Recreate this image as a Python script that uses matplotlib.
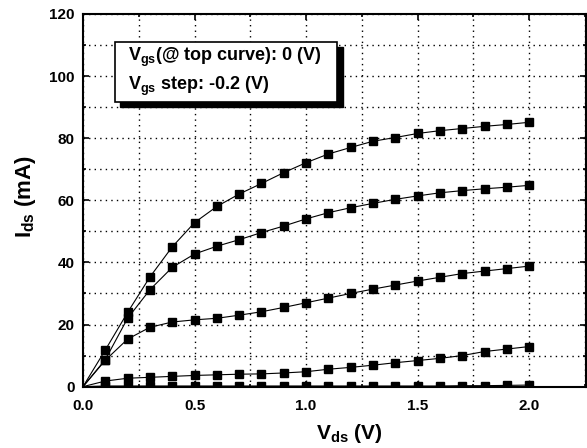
import matplotlib
matplotlib.use("Agg")
import matplotlib.pyplot as plt
from matplotlib.ticker import MultipleLocator, FormatStrFormatter
from matplotlib.patches import Rectangle

plt.rcParams['font.family'] = ['Liberation Sans', 'DejaVu Sans']
plt.rcParams['font.weight'] = 'bold'
plt.rcParams['mathtext.default'] = 'regular'

vds = [0.0, 0.1, 0.2, 0.3, 0.4, 0.5, 0.6, 0.7, 0.8, 0.9, 1.0,
       1.1, 1.2, 1.3, 1.4, 1.5, 1.6, 1.7, 1.8, 1.9, 2.0]

# Ids (mA) for Vgs = 0, -0.2, -0.4, -0.6, -0.8 V
ids_0 = [0, 11.8, 23.9, 35.3, 45.0, 52.8, 58.0, 62.0, 65.4, 68.9, 72.1,
         74.9, 77.0, 79.0, 80.2, 81.5, 82.4, 83.1, 83.8, 84.4, 85.1]
ids_m02 = [0, 8.7, 22.0, 31.2, 38.4, 42.7, 45.2, 47.3, 49.6, 51.7, 54.0,
           56.0, 57.6, 59.0, 60.3, 61.4, 62.4, 63.1, 63.7, 64.2, 64.8]
ids_m04 = [0, 8.5, 15.3, 19.1, 20.8, 21.5, 22.0, 23.0, 24.1, 25.5, 27.0,
           28.5, 30.0, 31.4, 32.7, 34.0, 35.2, 36.4, 37.2, 38.0, 38.8]
ids_m06 = [0, 1.8, 2.7, 3.0, 3.3, 3.6, 3.8, 4.0, 4.1, 4.4, 4.8,
           5.6, 6.2, 6.9, 7.7, 8.4, 9.1, 10.0, 11.3, 12.1, 12.9]
ids_m08 = [0, 0.2, 0.2, 0.2, 0.2, 0.2, 0.2, 0.2, 0.2, 0.2, 0.2,
           0.2, 0.2, 0.2, 0.2, 0.2, 0.2, 0.3, 0.3, 0.4, 0.5]

curves = [ids_0, ids_m02, ids_m04, ids_m06, ids_m08]

fig = plt.figure(figsize=(5.87, 4.48), dpi=100)
ax = fig.add_axes([0.1414, 0.137, 0.857, 0.832])

for ids in curves:
    ax.plot(vds[1:], ids[1:], 's', color='black', markersize=6, zorder=3)
    ax.plot(vds, ids, '-', color='black', linewidth=0.8, zorder=2)

ax.set_xlim(0, 2.255)
ax.set_ylim(0, 120)
ax.xaxis.set_major_locator(MultipleLocator(0.5))
ax.xaxis.set_minor_locator(MultipleLocator(0.25))
ax.yaxis.set_major_locator(MultipleLocator(20))
ax.yaxis.set_minor_locator(MultipleLocator(10))
ax.xaxis.set_major_formatter(FormatStrFormatter('%.1f'))
ax.grid(True, which='both', linestyle=(0, (1, 3)), color='black', linewidth=1)
ax.tick_params(which='both', direction='in', right=True, top=True, labelsize=11, width=1.2)
ax.tick_params(which='major', length=4)
ax.tick_params(which='minor', length=2)
ax.tick_params(axis='x', pad=9)
ax.tick_params(axis='y', pad=6)
for s in ax.spines.values():
    s.set_linewidth(1.5)

ax.set_xlabel('V$_{ds}$ (V)', fontsize=15, fontweight='bold')
ax.xaxis.set_label_coords(0.53, -0.095)
ax.set_ylabel('I$_{ds}$ (mA)', fontsize=16, fontweight='bold')
ax.yaxis.set_label_coords(-0.09, 0.51)

# legend box with drop shadow
ax.add_patch(Rectangle((0.074, 0.749), 0.443, 0.161, transform=ax.transAxes,
                       facecolor='black', edgecolor='black', zorder=5))
ax.add_patch(Rectangle((0.064, 0.764), 0.441, 0.161, transform=ax.transAxes,
                       facecolor='white', edgecolor='black', linewidth=1.2, zorder=6))
ax.text(0.089, 0.882, 'V$_{gs}$(@ top curve): 0 (V)', transform=ax.transAxes,
        fontsize=13, fontweight='bold', va='center', zorder=7)
ax.text(0.089, 0.806, 'V$_{gs}$ step: -0.2 (V)', transform=ax.transAxes,
        fontsize=13, fontweight='bold', va='center', zorder=7)

fig.savefig('out.png', dpi=100)
